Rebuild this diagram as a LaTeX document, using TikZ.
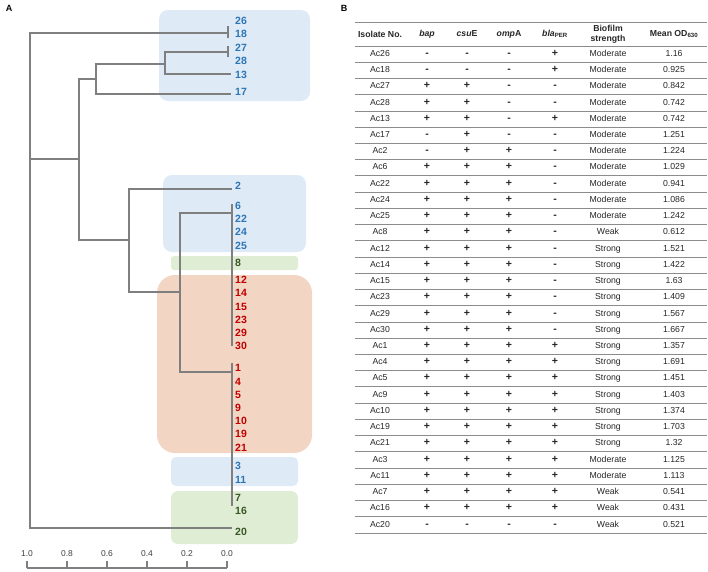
\documentclass[tikz,border=0pt]{standalone}
\usepackage{fontspec}
\setmainfont{Liberation Sans}
\usepackage{tikz}
\usetikzlibrary{positioning}
\definecolor{clblue}{HTML}{2E75B6}
\definecolor{clred}{HTML}{C00000}
\definecolor{clgreen}{HTML}{385723}
\definecolor{zblue}{HTML}{DEEBF7}
\definecolor{zorange}{HTML}{F3D5C3}
\definecolor{zgreen}{HTML}{DFEDD5}
\definecolor{brgray}{HTML}{7F7F7F}
\definecolor{rlgray}{HTML}{8C8C8C}
\definecolor{txgray}{HTML}{262626}

\begin{document}
\begin{tikzpicture}[x=1pt, y=-1pt,
  branch/.style={draw=brgray, line width=1.5pt},
  leaf/.style={anchor=west, inner sep=1pt, text=#1,
    font=\fontsize{10.5}{12}\selectfont\bfseries},
  zone/.style={fill=#1, rounded corners=9pt},
  panel/.style={font=\fontsize{9}{10}\selectfont\bfseries, inner sep=0pt},
  hd/.style={font=\fontsize{8.7}{10}\selectfont\bfseries, align=center, inner sep=0pt, text=txgray},
  cell/.style={font=\fontsize{8.7}{10}\selectfont, inner sep=0pt, text=txgray,
    text height=6.3pt, text depth=1.9pt},
  pm/.style={font=\fontsize{10.5}{12}\selectfont\bfseries, inner sep=0pt, text=txgray,
    text height=6.3pt, text depth=1.9pt},
  rule/.style={draw=rlgray, line width=0.9pt},
  tick/.style={font=\fontsize{8.5}{10}\selectfont, text=black!75, inner sep=0pt},
]
  \useasboundingbox (0,0) rectangle (708,571);

  \node[panel] (pa) at (9,8) {A};
  \node[panel] (pb) at (344,8) {B};

  % cluster backgrounds
  \fill[zone=zblue] (159,10) rectangle (310,101);
  \fill[zone=zblue] (163,175) rectangle (306,252);
  \fill[zone=zgreen, rounded corners=3pt] (171,256) rectangle (298,270);
  \fill[zone=zorange, rounded corners=18pt] (157,275) rectangle (312,453);
  \fill[zone=zblue, rounded corners=5pt] (171,457) rectangle (298,486);
  \fill[zone=zgreen, rounded corners=7pt] (171,491) rectangle (298,544);

  % tree
  \coordinate (r) at (30,159);
  \coordinate (n1) at (79,159);
  \coordinate (n2) at (96,79);
  \coordinate (n3) at (165,64);
  \coordinate (n4) at (129,240);
  \coordinate (n5) at (180,292);
  \coordinate (t1) at (228,33);
  \coordinate (t2) at (228,52);
  \coordinate (t3) at (232,213);
  \coordinate (t4) at (232,372);
  \coordinate (e13) at (231,74);
  \coordinate (e17) at (231,94);
  \coordinate (e2) at (232,189);
  \coordinate (e20) at (232,528);

  \draw[branch] (t1) -| (r) |- (e20);
  \draw[branch] (r) -- (n1);
  \draw[branch] (n2) -| (n1) |- (n4);
  \draw[branch] (n3) -| (n2) |- (e17);
  \draw[branch] (t2) -| (n3) |- (e13);
  \draw[branch] (e2) -| (n4) |- (n5);
  \draw[branch] (t3) -| (n5) |- (t4);

  \draw[branch, line width=1.3pt] ([yshift=-5pt]t1) -- ([yshift=7pt]t1);
  \draw[branch, line width=1.3pt] ([yshift=-5pt]t2) -- ([yshift=6pt]t2);
  \draw[branch, line width=1.3pt] (232,204) -- (232,346);
  \draw[branch, line width=1.3pt] (232,363) -- (232,506);

  \foreach \lab/\yy/\col in {26/21/clblue, 18/34/clblue, 27/48/clblue, 28/61/clblue,
      13/75/clblue, 17/92/clblue, 2/186/clblue, 6/206/clblue, 22/219/clblue,
      24/232/clblue, 25/246/clblue, 8/263/clgreen, 12/280/clred, 14/293/clred,
      15/307/clred, 23/320/clred, 29/333/clred, 30/346/clred, 1/368/clred,
      4/382/clred, 5/395/clred, 9/408/clred, 10/421/clred, 19/434/clred,
      21/448/clred, 3/466/clblue, 11/480/clblue, 7/498/clgreen, 16/511/clgreen,
      20/532/clgreen}
    \node[leaf=\col] (l\lab) at (234,\yy) {\lab};

  % scale
  \draw[draw=brgray, line width=1.2pt] (27,568) -- (227,568);
  \foreach \v [count=\k from 0] in {1.0,0.8,0.6,0.4,0.2,0.0} {
    \draw[draw=brgray, line width=1.2pt] (27+40*\k,568) -- (27+40*\k,561);
    \node[tick] (s\k) at (27+40*\k,554) {\v};
  }

  % table
  \draw[rule] (355,22) -- (707,22);
  \draw[rule] (355,46) -- (707,46);
  \node[hd] (hiso) at (380,34) {Isolate No.};
  \node[hd] (hbap) at (427,34) {\textit{bap}};
  \node[hd] (hcsu) at (467,34) {\textit{csu}E};
  \node[hd] (homp) at (509,34) {\textit{omp}A};
  \node[hd] (hbla) at (555,34) {\textit{bla}\textsubscript{PER}};
  \node[hd] (hstr) at (608,34) {Biofilm\\strength};
  \node[hd] (hod) at (674,34) {Mean OD\textsubscript{630}};

  \foreach \iso/\gb/\gc/\go/\gp/\st/\od [count=\i] in {
      Ac26/-/-/-/+/Moderate/1.16, Ac18/-/-/-/+/Moderate/0.925,
      Ac27/+/+/-/-/Moderate/0.842, Ac28/+/+/-/-/Moderate/0.742,
      Ac13/+/+/-/+/Moderate/0.742, Ac17/-/+/-/-/Moderate/1.251,
      Ac2/-/+/+/-/Moderate/1.224, Ac6/+/+/+/-/Moderate/1.029,
      Ac22/+/+/+/-/Moderate/0.941, Ac24/+/+/+/-/Moderate/1.086,
      Ac25/+/+/+/-/Moderate/1.242, Ac8/+/+/+/-/Weak/0.612,
      Ac12/+/+/+/-/Strong/1.521, Ac14/+/+/+/-/Strong/1.422,
      Ac15/+/+/+/-/Strong/1.63, Ac23/+/+/+/-/Strong/1.409,
      Ac29/+/+/+/-/Strong/1.567, Ac30/+/+/+/-/Strong/1.667,
      Ac1/+/+/+/+/Strong/1.357, Ac4/+/+/+/+/Strong/1.691,
      Ac5/+/+/+/+/Strong/1.451, Ac9/+/+/+/+/Strong/1.403,
      Ac10/+/+/+/+/Strong/1.374, Ac19/+/+/+/+/Strong/1.703,
      Ac21/+/+/+/+/Strong/1.32, Ac3/+/+/+/+/Moderate/1.125,
      Ac11/+/+/+/+/Moderate/1.113, Ac7/+/+/+/+/Weak/0.541,
      Ac16/+/+/+/+/Weak/0.431, Ac20/-/-/-/-/Weak/0.521} {
    \pgfmathsetmacro\ry{37.9+16.23*\i}
    \node[cell] (iso\i) at (380,\ry) {\iso};
    \node[pm] (bap\i) at (427,\ry) {\gb};
    \node[pm] (csu\i) at (467,\ry) {\gc};
    \node[pm] (omp\i) at (509,\ry) {\go};
    \node[pm] (bla\i) at (555,\ry) {\gp};
    \node[cell] (str\i) at (608,\ry) {\st};
    \node[cell] (od\i) at (674,\ry) {\od};
    \draw[rule, line width=0.7pt] (355,46+16.23*\i) -- (707,46+16.23*\i);
  }
\end{tikzpicture}
\end{document}
